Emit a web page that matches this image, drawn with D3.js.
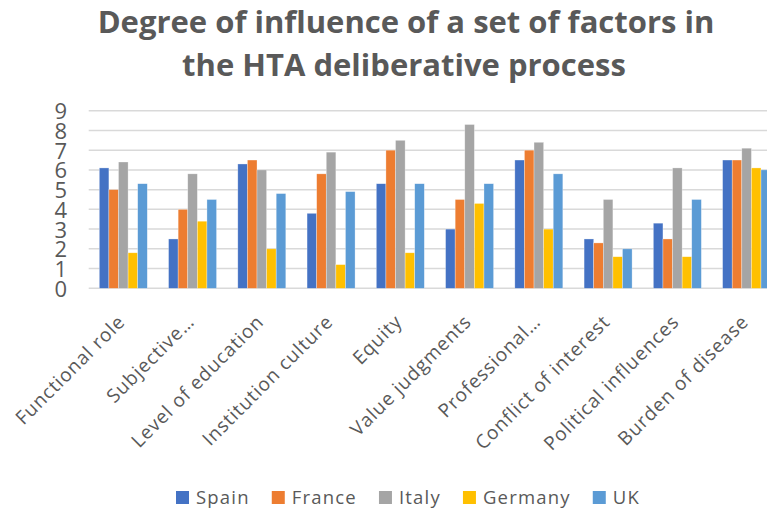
<!DOCTYPE html>
<html>
<head>
<meta charset="utf-8">
<script src="https://cdn.jsdelivr.net/npm/d3@7"></script>
<style>
  html, body { margin: 0; padding: 0; background: #fff; }
  svg { display: block; font-family: "Open Sans", "Liberation Sans", sans-serif; }
</style>
</head>
<body>
<svg id="chart" width="767" height="508"></svg>
<script>
// --- data -------------------------------------------------------
const categories = [
  "Functional role", "Subjective…", "Level of education", "Institution culture",
  "Equity", "Value judgments", "Professional…", "Conflict of interest",
  "Political influences", "Burden of disease"
];
const seriesNames = ["Spain", "France", "Italy", "Germany", "UK"];
const spain   = [6.1, 2.5, 6.3, 3.8, 5.3, 3.0, 6.5, 2.5, 3.3, 6.5];
const france  = [5.0, 4.0, 6.5, 5.8, 7.0, 4.5, 7.0, 2.3, 2.5, 6.5];
const italy   = [6.4, 5.8, 6.0, 6.9, 7.5, 8.3, 7.4, 4.5, 6.1, 7.1];
const germany = [1.8, 3.4, 2.0, 1.2, 1.8, 4.3, 3.0, 1.6, 1.6, 6.1];
const uk      = [5.3, 4.5, 4.8, 4.9, 5.3, 5.3, 5.8, 2.0, 4.5, 6.0];
const yTicks  = [0, 1, 2, 3, 4, 5, 6, 7, 8, 9];
const colors  = ["#4472C4", "#ED7D31", "#A5A5A5", "#FFC000", "#5B9BD5"];

const values = [spain, france, italy, germany, uk];
const textColor = "#595959";

const svg = d3.select("#chart");

// --- scales -----------------------------------------------------
const x0 = d3.scaleBand()
  .domain(categories)
  .range([88.7, 781.2])
  .paddingInner(0.307)
  .paddingOuter(0.153);

const x1 = d3.scaleBand()
  .domain(seriesNames)
  .range([0, x0.bandwidth()]);

const y = d3.scaleLinear()
  .domain([0, 9])
  .range([288.3, 110.7]);

const color = d3.scaleOrdinal().domain(seriesNames).range(colors);

// --- title ------------------------------------------------------
const title = svg.append("text")
  .attr("x", 406)
  .attr("text-anchor", "middle")
  .attr("fill", textColor)
  .attr("font-size", 31)
  .attr("font-weight", 700);
title.append("tspan").attr("x", 406).attr("y", 33).text("Degree of influence of a set of factors in");
title.append("tspan").attr("x", 404).attr("y", 76).text("the HTA deliberative process");

// --- gridlines --------------------------------------------------
svg.append("g")
  .selectAll("line")
  .data(yTicks)
  .join("line")
  .attr("x1", 88.7)
  .attr("x2", 781.2)
  .attr("y1", d => y(d))
  .attr("y2", d => y(d))
  .attr("stroke", "#d9d9d9")
  .attr("stroke-width", 1.5);

// --- y axis labels ----------------------------------------------
const yAxis = svg.append("g")
  .attr("transform", "translate(67,0)")
  .call(d3.axisLeft(y).tickValues(yTicks).tickSize(0).tickPadding(0));
yAxis.select(".domain").remove();
yAxis.selectAll("text")
  .attr("fill", textColor)
  .attr("font-size", 22)
  .attr("font-family", "'Open Sans', sans-serif")
  .attr("dy", "0.36em");

// --- bars -------------------------------------------------------
const groups = svg.append("g")
  .selectAll("g")
  .data(categories)
  .join("g")
  .attr("transform", d => `translate(${x0(d)},0)`);

groups.selectAll("rect")
  .data((d, i) => seriesNames.map((s, j) => ({ series: s, value: values[j][i] })))
  .join("rect")
  .attr("x", d => x1(d.series))
  .attr("width", x1.bandwidth())
  .attr("y", d => y(d.value))
  .attr("height", d => y(0) - y(d.value))
  .attr("fill", d => color(d.series))
  .attr("stroke", "#ffffff")
  .attr("stroke-opacity", 0.5)
  .attr("stroke-width", 0.6);

// --- x axis labels ----------------------------------------------
svg.append("g")
  .selectAll("text")
  .data(categories)
  .join("text")
  .attr("transform", d => `translate(${x0(d) + x0.bandwidth() / 2 + 3},323) rotate(-45)`)
  .attr("text-anchor", "end")
  .attr("fill", textColor)
  .attr("font-size", 19)
  .attr("letter-spacing", 0.9)
  .text(d => d);

// --- legend -----------------------------------------------------
const legend = svg.append("g");
const items = legend.selectAll("g")
  .data(seriesNames)
  .join("g");
items.append("rect")
  .attr("width", 13)
  .attr("height", 13)
  .attr("y", 491)
  .attr("fill", d => color(d));
items.append("text")
  .attr("x", 20)
  .attr("y", 503.5)
  .attr("fill", textColor)
  .attr("font-size", 18.5)
  .attr("letter-spacing", 1.2)
  .text(d => d);

// lay legend items out from their measured widths, centred
const gap = 22;
let widths = [];
items.each(function () { widths.push(this.getBBox().width); });
const total = d3.sum(widths) + gap * (widths.length - 1);
let cx = 408 - total / 2;
items.attr("transform", (d, i) => {
  const t = `translate(${cx},0)`;
  cx += widths[i] + gap;
  return t;
});
</script>
</body>
</html>
